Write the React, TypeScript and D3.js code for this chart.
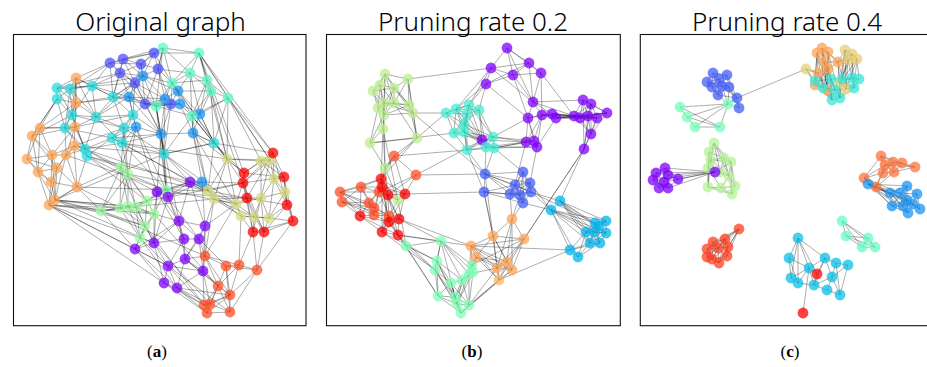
import { useEffect, useRef } from 'react';
import * as d3 from 'd3';

// each node: [x, y, community value on the rainbow colormap], x/y in panel units (0..293)
type GNode = [number, number, number];

const titles = ['Original graph', 'Pruning rate 0.2', 'Pruning rate 0.4'];
const captions = ['a', 'b', 'c'];

const nodesA: GNode[] = [
  // orange
  [63, 43, 0.78], [63, 68, 0.78], [62, 92, 0.78], [27, 93, 0.78], [19, 101, 0.78], [61, 111, 0.78], [14, 124, 0.78],
  [39, 120, 0.78], [53, 120, 0.78], [44, 133, 0.78], [25, 137, 0.78], [38, 147, 0.78], [64, 152, 0.78], [42, 165, 0.78], [36, 170, 0.78],
  // turquoise
  [44, 53, 0.33], [57, 54, 0.33], [79, 51, 0.33], [44, 64, 0.33], [83, 82, 0.33], [59, 80, 0.33], [52, 93, 0.33], [72, 114, 0.33],
  [74, 121, 0.33], [100, 62, 0.33], [120, 80, 0.33], [111, 93, 0.33], [99, 103, 0.33], [109, 108, 0.33], [151, 119, 0.33], [201, 108, 0.33],
  // blue-violet
  [97, 28, 0.1], [110, 24, 0.1], [128, 29, 0.1], [141, 18, 0.1], [107, 38, 0.1], [122, 48, 0.1], [132, 69, 0.1], [145, 34, 0.1], [158, 69, 0.1],
  // blue
  [130, 41, 0.2], [116, 62, 0.2], [123, 92, 0.2], [165, 56, 0.2], [152, 64, 0.2], [167, 69, 0.2], [187, 79, 0.2], [148, 99, 0.2], [180, 98, 0.2], [189, 147, 0.2],
  // aquamarine
  [150, 13, 0.43], [186, 18, 0.43], [177, 38, 0.43], [159, 48, 0.43], [194, 45, 0.43], [198, 56, 0.43], [215, 63, 0.43], [143, 71, 0.43], [179, 81, 0.43],
  // light green
  [108, 132, 0.56], [115, 139, 0.56], [153, 155, 0.52], [134, 166, 0.56], [88, 176, 0.56], [107, 173, 0.56], [115, 171, 0.56],
  [123, 172, 0.56], [141, 179, 0.56], [132, 191, 0.56], [127, 203, 0.56],
  // purple
  [177, 147, 0], [144, 157, 0], [155, 162, 0], [166, 186, 0], [192, 191, 0], [171, 204, 0], [186, 204, 0], [141, 208, 0],
  [122, 214, 0], [172, 224, 0], [155, 231, 0], [190, 236, 0], [151, 248, 0], [164, 253, 0],
  // orange-red
  [192, 221, 0.9], [213, 231, 0.9], [226, 230, 0.9], [244, 235, 0.9], [205, 251, 0.9], [217, 260, 0.9], [191, 270, 0.9],
  [197, 269, 0.9], [194, 278, 0.9], [217, 277, 0.9],
  // khaki
  [214, 124, 0.67], [248, 126, 0.67], [257, 125, 0.67], [261, 144, 0.67], [195, 156, 0.67], [272, 157, 0.67], [201, 164, 0.67],
  [248, 163, 0.67], [223, 169, 0.67], [228, 181, 0.67], [241, 182, 0.67], [256, 183, 0.67],
  // red
  [260, 118, 1], [231, 138, 1], [271, 142, 1], [230, 148, 1], [234, 163, 1], [274, 170, 1], [280, 186, 1], [240, 197, 1], [251, 197, 1],
];

const edgesA = `
0:1,2,15,16,17,19,20,24,31 1:2,3,15,16,18,20,21,19,24,41 2:3,4,5,7,8,20,21,22,19,25 3:4,6,7,10,18,21 4:6,7,9,10,20,18
5:8,9,12,22,23,7,26,29 6:7,10,11,9 7:8,9,10,11,13 8:9,12,13,21,22,61 9:10,11,13,14,12 10:11,13,14 11:13,14,12
12:13,14,63,64,59,23,98 13:14,63,64,65,66,68,29,77 14:63,64,67,78,69,82,80
15:16,18,17,20,35 16:17,18,20,19,31,21,40 17:19,24,31,35,20,41,36 18:20,21,4 19:20,22,24,25,26,36,28,41
20:21,22,23,26 21:22,23,27 22:23,27,28,59,60,98 23:27,59,62,71,70 24:25,31,32,35,36,41,26,40,57
25:26,27,28,36,37,41,42,47 26:27,28,42,59,60,29 27:28,42,60,47,98 28:42,47,29,61,60,70,94
29:47,57,39,44,30,70,72,61,98,102 30:46,48,58,56,94,98,107,29,106
31:32,33,35,36,34 32:33,34,35,40,36,50 33:34,35,36,38,40,37,50 34:38,40,50,53,51 35:36,37,41,40
36:37,40,41,57,44,47 37:38,41,44,57,39,45,47 38:39,40,44,50,52,53 39:44,45,53,57,43,47
40:41,44,53,57,43 41:42,44,47,57 42:47,59,60,71,61 43:44,45,52,53,55,46,94 44:45,47,57,53 45:46,48,57,58
46:48,55,56,58,30 47:48,57,61,71,29,73 48:58,30,49,98,107,102 49:70,61,98,100,72,109,74
50:51,52,53,57,38 51:52,54,55,56,53,94,106,96,107 52:53,54,55,58,46 53:54,57,58,43,94 54:55,56,58,46
55:56,58,30,94,109 56:58,94,106,95,96 57:58,29,61 58:29,30,94,48,98
59:60,62,63,64,65,66 60:62,63,64,65,66,61,98 61:62,66,67,70,71,72,102 62:64,65,66,67,68,71,72
63:64,65,66,68,78,84 64:65,66,67,68,69,100 65:66,67,68,69 66:67,68,69,77 67:68,69,73,77,71,88 68:69,77,78,90 69:78,77,80,83
70:71,72,74,98,100,73,49 71:72,73,77,75,110 72:73,75,76,77,109 73:74,75,76,77,79,78 74:76,79,81,84,100,102
75:76,79,80,77 76:79,81,84,85 77:78,80,82,91 78:80,82,83 79:80,81,83,84,88,89 80:81,82,83,90,93
81:83,84,88,90,91 82:83,90,92 83:90,91,92,89
84:85,86,88,89,100,102 85:86,87,88,89,93 86:87,88,89,103,113 87:89,93,113,114,112
88:89,90,91,92,93 89:90,91,92,93 90:91,92 91:92,93 92:93
94:95,96,98,100,102,107,109 95:96,97,101,107,106,108 96:97,101,106,108,109 97:99,101,105,106,108,111
98:100,102,103,109,110 99:101,105,108,111,112 100:102,103,104,110 101:102,104,105,110,113,114
102:103,104,109,110 103:104,105,113 104:105,110,113,114 105:111,112,114
106:107,108,109,110,111 107:108,109,110 108:109,111,112 109:110,113,114 110:111,113,114 111:112,114 112:113,114 113:114
`;

const nodesB: GNode[] = [
  // light green
  [59, 39, 0.62], [82, 44, 0.62], [47, 56, 0.62], [54, 50, 0.62], [68, 53, 0.62], [52, 73, 0.62], [58, 68, 0.62], [68, 68, 0.62],
  [83, 70, 0.62], [87, 78, 0.62], [58, 80, 0.62], [57, 94, 0.62], [44, 108, 0.62], [91, 103, 0.62], [59, 133, 0.62], [72, 165, 0.62],
  // orange-red
  [68, 121, 0.9], [90, 140, 0.9], [14, 157, 0.9], [16, 167, 0.9], [35, 152, 0.9], [43, 168, 0.9], [48, 173, 0.9], [48, 180, 0.9],
  [53, 157, 0.9], [63, 181, 0.9],
  // red
  [55, 144, 1], [56, 152, 1], [62, 160, 1], [79, 159, 1], [34, 181, 1], [63, 187, 1], [73, 184, 1], [56, 197, 1], [72, 200, 1],
  // aquamarine
  [80, 211, 0.5], [115, 206, 0.5], [111, 226, 0.5], [109, 235, 0.5], [125, 248, 0.5], [136, 245, 0.5], [146, 230, 0.5],
  [147, 237, 0.5], [112, 261, 0.5], [129, 262, 0.5], [131, 269, 0.5], [143, 270, 0.5], [135, 278, 0.5], [143, 239, 0.5],
  // tan
  [145, 211, 0.78], [150, 222, 0.78], [167, 201, 0.78], [186, 184, 0.78], [198, 204, 0.78], [181, 227, 0.78], [171, 233, 0.78],
  [186, 235, 0.78], [173, 245, 0.75],
  // purple
  [181, 13, 0], [203, 28, 0], [215, 38, 0], [165, 33, 0], [187, 40, 0], [160, 49, 0], [207, 67, 0], [202, 83, 0], [216, 80, 0],
  [226, 79, 0], [230, 83, 0], [248, 81, 0], [254, 83, 0], [262, 81, 0], [271, 83, 0], [281, 78, 0], [257, 65, 0], [265, 69, 0],
  [265, 99, 0], [258, 114, 0], [200, 107, 0], [208, 106, 0], [211, 112, 0], [156, 105, 0],
  // turquoise
  [120, 78, 0.38], [130, 74, 0.38], [143, 70, 0.38], [153, 75, 0.38], [141, 79, 0.38], [138, 89, 0.38], [128, 98, 0.38],
  [138, 97, 0.38], [141, 115, 0.38], [167, 102, 0.38], [160, 112, 0.38], [168, 113, 0.38],
  // blue-violet
  [159, 139, 0.12], [197, 137, 0.12], [189, 150, 0.12], [204, 148, 0.12], [158, 157, 0.12], [184, 159, 0.12], [194, 160, 0.12],
  [205, 157, 0.12], [197, 168, 0.12],
  // cyan-blue
  [234, 166, 0.25], [225, 175, 0.25], [269, 188, 0.25], [280, 186, 0.25], [260, 197, 0.25], [269, 197, 0.25], [280, 198, 0.25],
  [264, 208, 0.25], [274, 208, 0.25], [244, 215, 0.25], [252, 222, 0.25], [273, 191, 0.25],
];

const edgesB = `
0:1,2,3,4,6,7,8,10 1:4,7,8,9,13,61 2:3,5,6,10,4 3:4,5,6,7,10 4:6,7,8,9,10 5:6,7,10,11,12 6:7,8,9,10,11
7:8,9,10,13 8:9,10,13 9:10,13,94,82 10:11,12,14 11:12,14,15,26 12:13,14,88 13:14,16,82,26 14:15,16,26,27,28
15:24,26,27,28,29,25,35 16:17,26,29,90,14 17:24,29,81,94,28
18:19,20,21,23,24,30,26,22 19:20,21,22,23,30,25 20:21,22,24,26,27,30 21:22,23,24,25,27,30 22:23,24,25,28
23:24,25,31,30 24:25,26,27,28 25:31,32,33,34 26:27,28,29,31 27:28,29,31,32,33 28:29,31,32,33,34 29:32,98,31
30:31,33,34 31:32,33,34,35 32:33,34,36,49 33:34,38,37 34:35,36,49,43,38
35:36,37,38,43 36:37,38,40,41,42,48,44 37:38,39,40,43,44,45 38:39,43,44,45,47 39:40,43,44,45,46,47
40:41,42,44,45,46,48 41:42,48,49,50,53 42:48,46,45,50 43:44,45,47 44:45,46,47,48 45:46,47,48 46:47,48,57,55 47:57,56 48:49,50,55
49:50,51,53,54,55,56,57,112 50:51,54,55,56,57 51:52,53,54,55,56,57,94,98 52:53,54,55,56,99,100 53:54,55,56,57,77
54:55,56,57 55:56,57 56:57 57:112
58:59,61,62,60,64 59:60,61,62,63,64 60:62,64,66,69 61:62,63,84,83,64 62:63,64,65 63:84,85,83,65
64:65,66,67,69,74 65:66,67,78,79,80,91 66:67,68,69,70,79,80,78 67:68,69,70,71,72 68:69,70,71,72,73,80
69:70,71,72,73,74,75,76 70:71,72,73,74,75,76 71:72,73,74,75,76,77 72:73,75,76,77 73:74,75,76 74:75,77 75:76,77 76:77 77:103,53
78:79,80,91,92,93,81,96 79:80,91,93 80:93,92,97 81:83,84,85,86,87,88,89,90,91,92,93
82:83,84,86,87,88,89 83:84,85,86,87,88,89 84:85,86,87,89,91 85:86,87,91,92 86:87,88,89,90 87:88,89,90,91,92
88:89,90 89:90,91,92,93 90:91,92,93,94,98 91:92,93 92:93,94 93:94,95
94:95,96,98,99,100,97,101 95:96,97,99,100,101,102 96:97,98,99,100,101,102 97:99,100,101,102,104 98:99,100,102,51
99:100,101,102 100:101,102 101:102,104,103,105 102:52,104
103:104,105,106,107,108,109,110,111 104:105,106,107,108,109,110,112,113 105:106,107,108,109,110,111,114
106:107,108,109,114 107:108,109,110,111,112,113 108:109,110,111,114 109:110,111 110:111,112,113 111:112,113 112:113
`;

const nodesC: GNode[] = [
  // tan
  [177, 18, 0.78], [182, 13, 0.78], [188, 17, 0.78], [198, 27, 0.78], [188, 34, 0.78], [178, 38, 0.78], [184, 27, 0.78], [175, 50, 0.78], [187, 55, 0.78],
  // khaki
  [205, 15, 0.7], [212, 19, 0.7], [217, 24, 0.7], [208, 25, 0.7], [166, 34, 0.7], [200, 48, 0.7], [206, 54, 0.7],
  // turquoise
  [175, 46, 0.36], [183, 53, 0.36], [191, 44, 0.36], [202, 44, 0.36], [212, 43, 0.36], [219, 44, 0.36], [214, 53, 0.36],
  [192, 65, 0.36], [200, 63, 0.36], [195, 55, 0.36],
  // blue-violet
  [73, 38, 0.12], [67, 47, 0.12], [87, 40, 0.12], [79, 44, 0.12], [72, 52, 0.12], [82, 51, 0.12], [89, 52, 0.12], [78, 60, 0.12],
  [97, 63, 0.12], [99, 73, 0.12],
  // aquamarine
  [88, 69, 0.48], [40, 72, 0.48], [47, 82, 0.48], [55, 92, 0.48], [80, 92, 0.48],
  // light green
  [74, 108, 0.6], [69, 117, 0.6], [71, 125, 0.6], [84, 123, 0.6], [91, 127, 0.6], [68, 133, 0.6], [89, 141, 0.6], [68, 152, 0.6],
  [81, 153, 0.6], [95, 151, 0.6], [92, 159, 0.6], [80, 137, 0.6],
  // purple
  [25, 133, 0], [16, 138, 0], [13, 145, 0], [28, 140, 0], [24, 147, 0], [19, 153, 0], [28, 153, 0], [38, 144, 0], [75, 137, 0],
  // orange
  [241, 121, 0.85], [253, 127, 0.85], [262, 128, 0.85], [275, 132, 0.85], [245, 130, 0.85], [243, 138, 0.85], [254, 137, 0.85],
  [224, 143, 0.85], [236, 152, 0.85],
  // blue
  [228, 149, 0.2], [267, 151, 0.2], [250, 158, 0.2], [260, 158, 0.2], [277, 159, 0.2], [267, 165, 0.2], [252, 171, 0.2],
  [263, 171, 0.2], [273, 169, 0.2], [280, 174, 0.2], [268, 178, 0.2],
  // aquamarine (lower)
  [202, 186, 0.45], [206, 201, 0.45], [228, 203, 0.45], [222, 212, 0.45], [235, 212, 0.45],
  // orange-red
  [99, 194, 0.92], [85, 204, 0.92], [73, 207, 0.92], [67, 214, 0.92], [78, 213, 0.92], [88, 212, 0.92], [67, 222, 0.92],
  [72, 224, 0.92], [79, 228, 0.92], [87, 221, 0.92],
  // cyan-blue
  [158, 203, 0.27], [149, 223, 0.27], [185, 223, 0.27], [196, 228, 0.27], [208, 230, 0.27], [169, 233, 0.27], [151, 243, 0.27],
  [158, 248, 0.27], [174, 250, 0.27], [192, 242, 0.27], [187, 255, 0.27], [200, 260, 0.27],
  // red
  [177, 239, 1], [163, 278, 1],
];

const edgesC = `
0:1,2,4,5,7,16,17,23 1:2,3,4,8,17,23 2:3,4,8,23,24 3:4,9,10,12,14,15,24 4:5,6,7,8,17,18 5:7,8,16,17,13
6:3,8,18,25 7:16,17,23,25 8:17,23,24,25 9:10,11,12,14,15,19 10:11,12,14,20,22 11:12,14,15,21,22
12:14,15,19,20 13:16,5,7,34 14:15,19,20,22,24 15:22,24,25 16:17,18,23 17:18,23,25 18:19,23,24,25
19:20,21,22,24 20:21,22 21:22 22:24 23:24,25 24:25
26:27,28,29,30,31 27:29,30,31,33 28:29,31,32,34 29:30,31,32,33 30:31,33 31:32,33,34,36 32:33,34,35,36
33:34,36 34:35,36 35:36 36:37,38,39,40 37:38,40 38:39,40 39:40
41:42,43,44,45,46,47,52 42:43,44,46,48 43:44,45,46,47,48,61 44:45,47,52 45:47,50,51 46:48,49,52
47:49,50,51,52 48:49,51 49:50,51 50:51 52:61
53:54,55,56,57,61,60 54:55,56,57,58,61 55:57,58,59,61 56:57,59,60,61 57:58,59,61 58:59 59:60,61 60:61 61:45,47
62:63,64,66,67,68,69 63:64,65,66,67,68 64:65,66,68 65:68,66 66:67,68,69,70 67:68,69,70 68:70 69:70,71,73,74,77 70:71,73
71:72,73,74,76,77,78,79,80,81 72:73,74,75,76,77,78 73:74,76,77,78,81 74:75,76,78,79 75:76,79,80
76:77,78,79,80,81 77:78,81 78:79,81 79:80,81
82:83,84,85,86 83:84,85,86 84:85,86 85:86
87:88,89,90,91,92,96,95 88:89,90,91,92,93,94,95,96 89:90,91,93,94 90:91,93,94,95 91:92,93,94,95,96
92:94,95,96 93:94,95 94:95,96 95:96
97:98,99,102,103,109,104 98:102,103,104 99:100,102,105,106,109 100:101,106,108 101:106,108
102:103,104,105,109,110 103:104 104:105 105:106,107,109 106:107,108 107:108
`;

const panelNodes = [nodesA, nodesB, nodesC];
const panelEdges = [edgesA, edgesB, edgesC];

// panel frames on the page
const frameX = [13.5, 326.5, 640.3];
const frameW = [292.5, 293.8, 293];
const originX = [13, 326, 640];
const frameTop = 34.5;
const frameH = 291.2;
const originY = 35;
const titleX = [160.5, 473, 787];
const captionX = [157, 472, 790];

function parseEdges(s: string): [number, number][] {
  const out: [number, number][] = [];
  s.trim().split(/\s+/).forEach(tok => {
    const [a, rest] = tok.split(':');
    rest.split(',').forEach(b => out.push([+a, +b]));
  });
  return out;
}

// matplotlib 'rainbow' colormap
const rainbow = (t: number) => {
  const r = Math.min(1, Math.abs(2 * t - 0.5));
  const g = Math.sin(Math.PI * t);
  const b = Math.cos((Math.PI * t) / 2);
  return d3.rgb(r * 255, g * 255, b * 255).formatHex();
};

export default function App() {
  const ref = useRef<SVGSVGElement>(null);

  useEffect(() => {
    const svg = d3.select(ref.current);
    svg.selectAll('*').remove();

    const color = d3.scaleSequential(rainbow).domain([0, 1]);

    panelNodes.forEach((nodes, i) => {
      const x = d3.scaleLinear().domain([0, 293]).range([originX[i], originX[i] + 293]);
      const y = d3.scaleLinear().domain([0, 291]).range([originY, originY + 291]);
      const g = svg.append('g');

      g.append('rect')
        .attr('x', frameX[i])
        .attr('y', frameTop)
        .attr('width', frameW[i])
        .attr('height', frameH)
        .attr('fill', 'white')
        .attr('stroke', '#111')
        .attr('stroke-width', 1.1);

      const edges = parseEdges(panelEdges[i]).filter(([a, b]) => nodes[a] && nodes[b]);
      g.append('g')
        .selectAll('line')
        .data(edges)
        .join('line')
        .attr('x1', d => x(nodes[d[0]][0]))
        .attr('y1', d => y(nodes[d[0]][1]))
        .attr('x2', d => x(nodes[d[1]][0]))
        .attr('y2', d => y(nodes[d[1]][1]))
        .attr('stroke', '#000')
        .attr('stroke-opacity', 0.34)
        .attr('stroke-width', 0.95);

      g.append('g')
        .selectAll('circle')
        .data(nodes)
        .join('circle')
        .attr('cx', d => x(d[0]))
        .attr('cy', d => y(d[1]))
        .attr('r', 5.4)
        .attr('fill', d => color(d[2]))
        .attr('fill-opacity', 0.75);

      svg.append('text')
        .attr('x', titleX[i])
        .attr('y', 31)
        .attr('text-anchor', 'middle')
        .attr('font-family', '"Noto Sans", sans-serif')
        .attr('font-weight', 300)
        .attr('font-size', 26)
        .attr('fill', '#000')
        .text(titles[i]);

      const cap = svg.append('text')
        .attr('x', captionX[i])
        .attr('y', 357)
        .attr('text-anchor', 'middle')
        .attr('font-family', '"Liberation Serif", serif')
        .attr('font-size', 17)
        .attr('fill', '#000');
      cap.append('tspan').text('(');
      cap.append('tspan').attr('font-weight', 'bold').text(captions[i]);
      cap.append('tspan').text(')');
    });
  }, []);

  return (
    <svg
      ref={ref}
      width={927}
      height={367}
      style={{ position: 'absolute', left: 0, top: 0, background: 'white' }}
    />
  );
}
